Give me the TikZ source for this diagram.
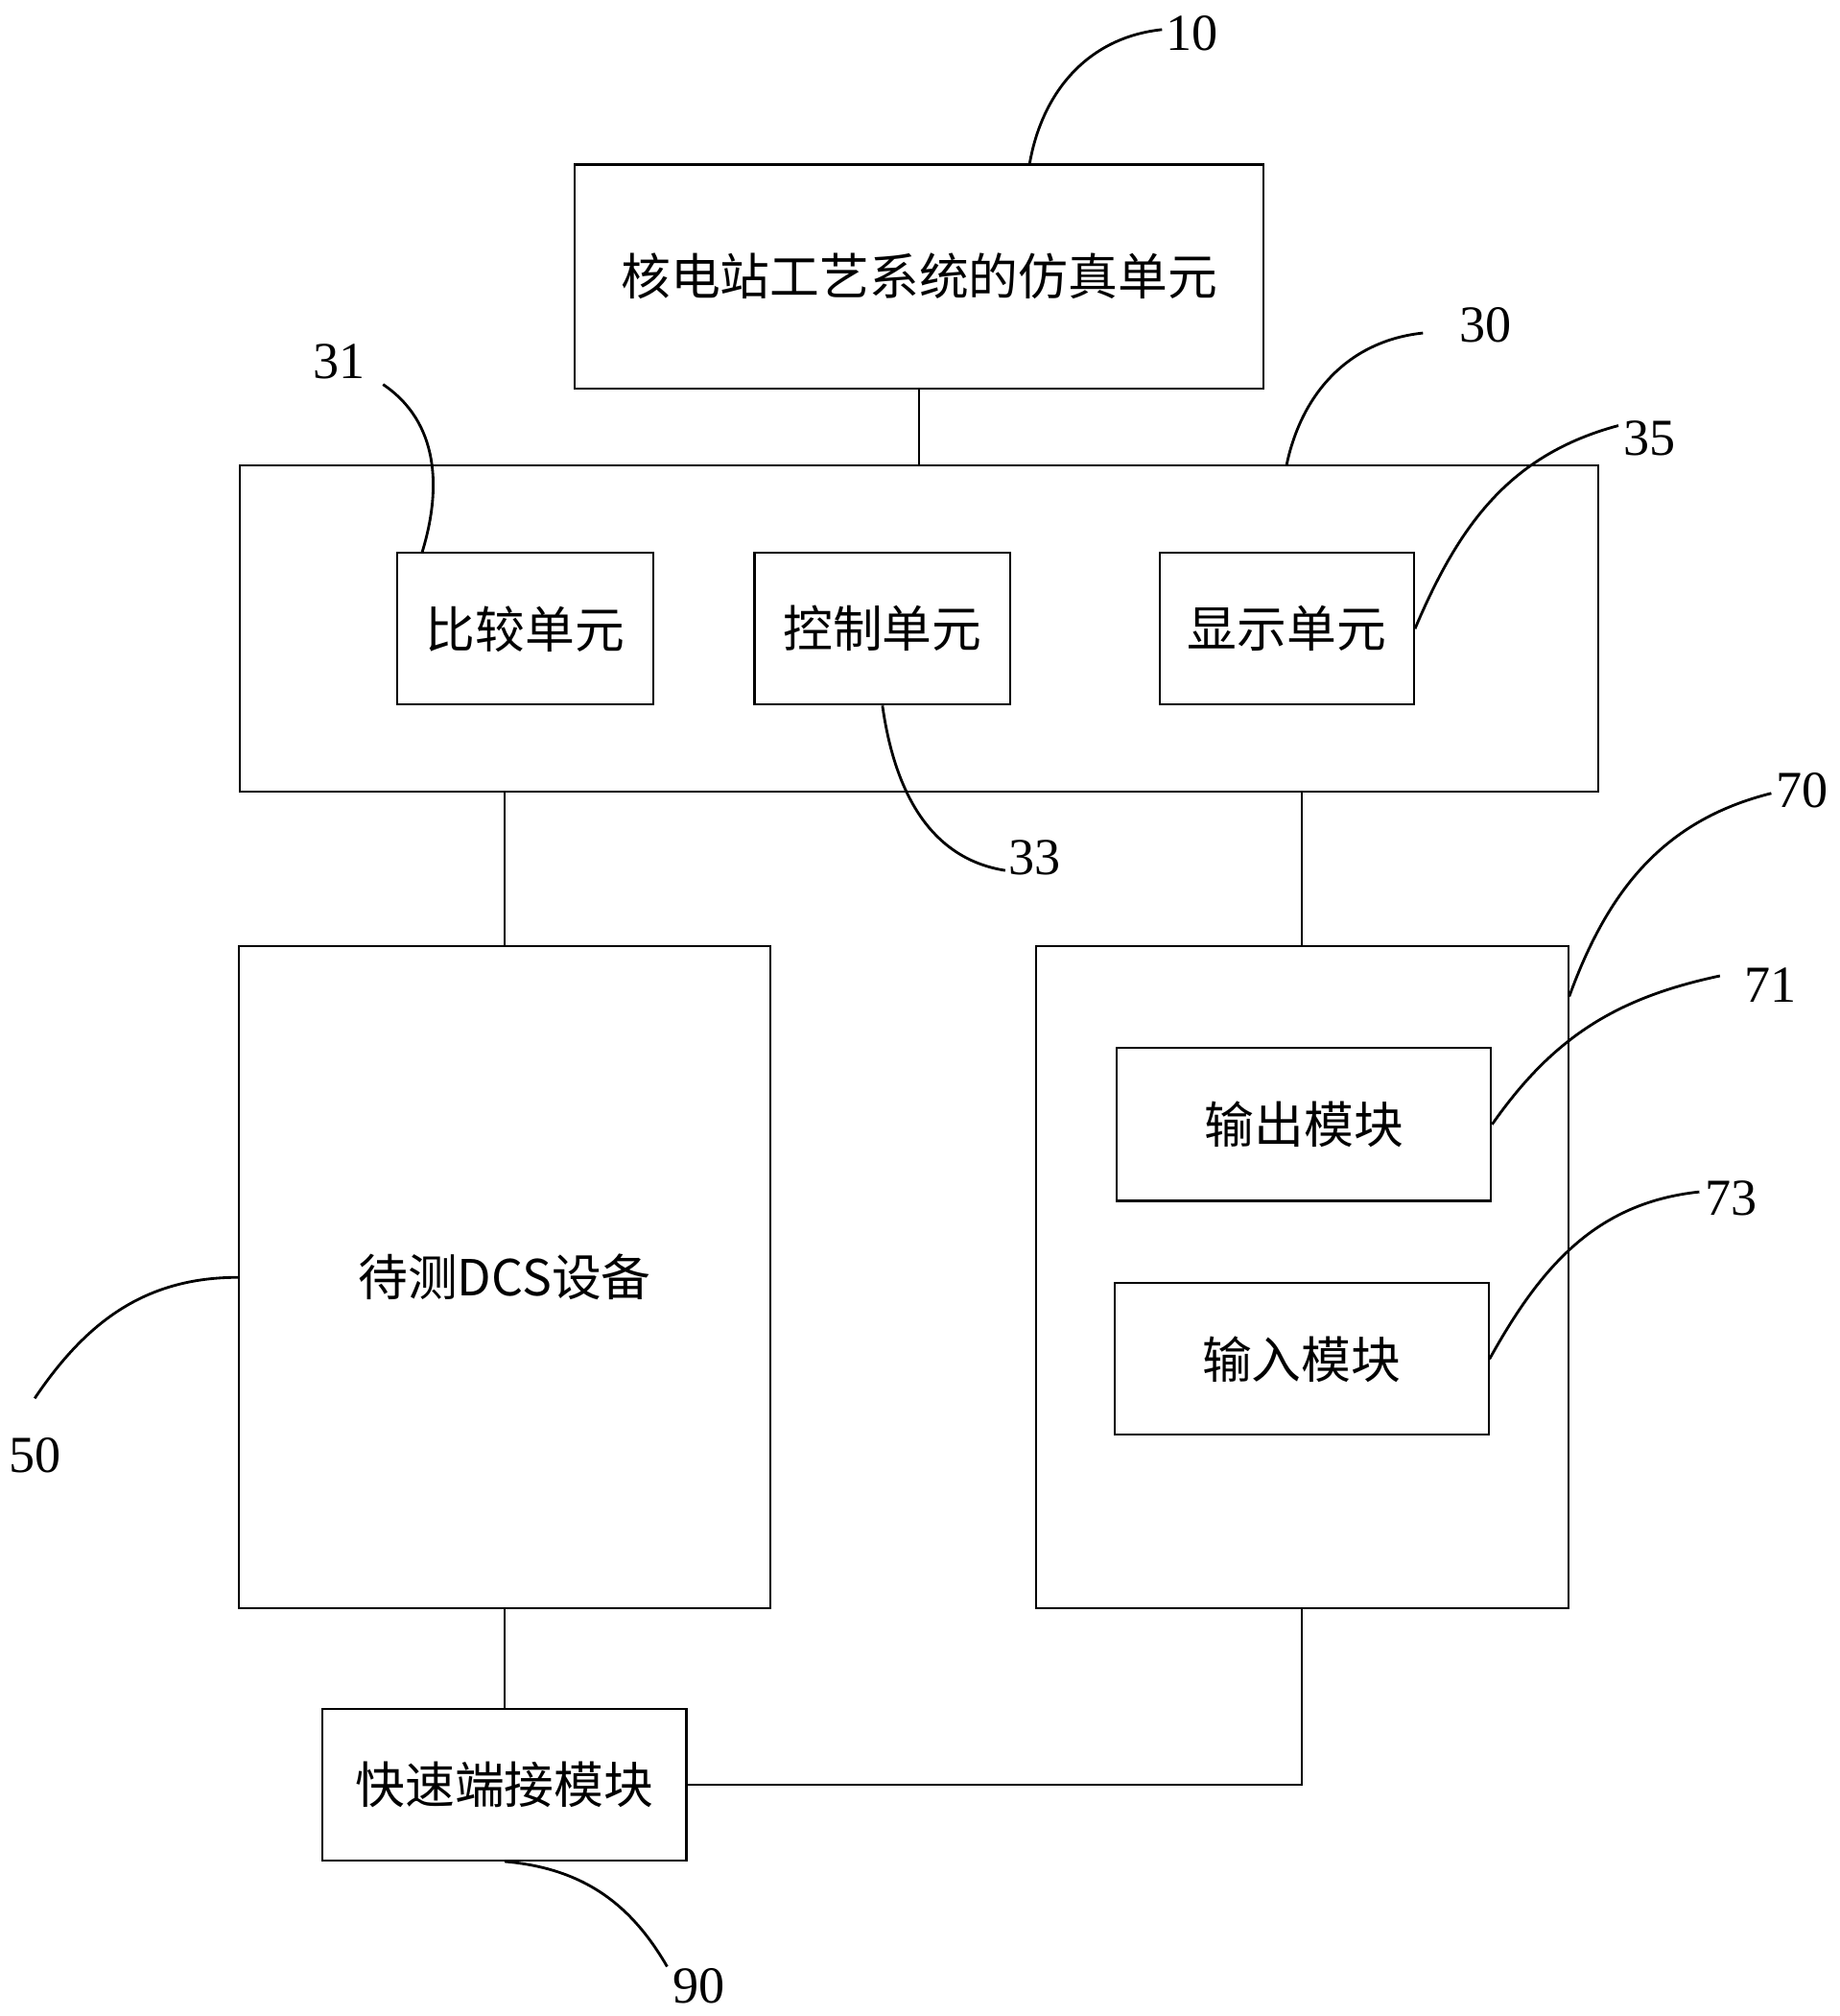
\documentclass[tikz,border=0pt]{standalone}
\usepackage{fontspec}
\setmainfont{Liberation Serif}
\newfontfamily\cjk{Noto Sans CJK SC}
\begin{document}
\begin{tikzpicture}[x=0.1mm, y=-0.1mm, line width=0.45pt,
        b/.style={draw, rectangle, inner sep=0pt, font=\cjk\fontsize{11pt}{13pt}\selectfont},
        l/.style={inner sep=0pt, font=\fontsize{11.5pt}{13pt}\selectfont},
        lead/.style={line width=0.6pt}]
            \useasboundingbox (0, 0) rectangle (1431, 1568);

            \node[b, minimum width=53.6mm, minimum height=17.4mm] (sim) at (715, 215) {核电站工艺系统的仿真单元};
            \node[b, minimum width=105.7mm, minimum height=25.4mm] (host) at (715, 489) {};
            \node[b, minimum width=19.9mm, minimum height=11.8mm] (cmp) at (408.5, 489) {比较单元};
            \node[b, minimum width=19.9mm, minimum height=11.8mm] (ctl) at (686.5, 489) {控制单元};
            \node[b, minimum width=19.8mm, minimum height=11.8mm] (disp) at (1001, 489) {显示单元};
            \node[b, minimum width=41.3mm, minimum height=51.5mm] (dcs) at (392.5, 993.5) {待测DCS设备};
            \node[b, minimum width=41.4mm, minimum height=51.5mm] (io) at (1013, 993.5) {};
            \node[b, minimum width=29.1mm, minimum height=11.9mm] (outm) at (1014.5, 874.5) {输出模块};
            \node[b, minimum width=29.1mm, minimum height=11.8mm] (inm) at (1012.5, 1057) {输入模块};
            \node[b, minimum width=28.3mm, minimum height=11.8mm] (term) at (392.5, 1388) {快速端接模块};

            \node[l] (l10) at (927, 26) {10};
            \node[l] (l30) at (1156, 253) {30};
            \node[l] (l31) at (264, 281) {31};
            \node[l] (l33) at (805, 667) {33};
            \node[l] (l35) at (1283, 341) {35};
            \node[l] (l50) at (27, 1132) {50};
            \node[l] (l70) at (1402, 615) {70};
            \node[l] (l71) at (1377, 766) {71};
            \node[l] (l73) at (1347, 932) {73};
            \node[l] (l90) at (544, 1545) {90};

            \draw (sim) -- (host);
            \draw (dcs.north) -- (dcs.north |- host.south);
            \draw (io.north) -- (io.north |- host.south);
            \draw (dcs) -- (term);
            \draw (term.east) -| (io.south);

            \draw[lead] ([xshift=8.6mm]sim.north) to[out=80, in=186] ([shift={(-0.2mm,0.3mm)}]l10.west);
            \draw[lead] ([xshift=28.6mm]host.north) to[out=78, in=186] ([shift={(-2.8mm,-0.6mm)}]l30.west);
            \draw[lead] ([xshift=-8mm]cmp.north) to[out=73, in=-34] ([shift={(1.3mm,-1.8mm)}]l31.east);
            \draw[lead] (ctl.south) to[out=-82, in=171] ([shift={(-0.2mm,-1mm)}]l33.west);
            \draw[lead] (disp.east) to[out=67, in=195] ([shift={(-0.3mm,1mm)}]l35.west);
            \draw[lead] (dcs.west) to[out=180, in=56] ([yshift=3mm]l50.north);
            \draw[lead] ([yshift=21.85mm]io.east) to[out=70, in=194] ([shift={(-0.3mm,-0.2mm)}]l70.west);
            \draw[lead] (outm.east) to[out=55, in=192] ([shift={(-1.8mm,0.7mm)}]l71.west);
            \draw[lead] (inm.east) to[out=61, in=186] ([shift={(-0.4mm,0.5mm)}]l73.west);
            \draw[lead] (term.south) to[out=-5, in=120] ([shift={(-0.4mm,0.1mm)}]l90.north west);
        \end{tikzpicture}
\end{document}
